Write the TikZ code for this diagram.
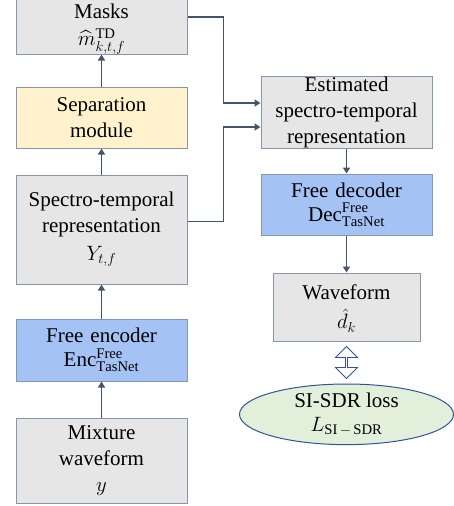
\documentclass[tikz,border=0pt]{standalone}
\usepackage{amsmath}
\usepackage{fontspec}
\setmainfont{Liberation Serif}
\usepackage{tikz}
\usetikzlibrary{shapes.geometric}
\usetikzlibrary{shapes.arrows}
\usetikzlibrary{arrows.meta}
\usetikzlibrary{calc}
\usetikzlibrary{positioning}
\definecolor{boxgray}{HTML}{E7E6E6}
\definecolor{boxline}{HTML}{8497B0}
\definecolor{sepyellow}{HTML}{FFF2CC}
\definecolor{codecblue}{HTML}{A4C2F4}
\definecolor{lossgreen}{HTML}{E2EFDA}
\definecolor{lossline}{HTML}{2F5597}
\definecolor{flowline}{HTML}{44546A}
\tikzstyle{block} = [rectangle, minimum width=171pt, text width=168pt, inner sep=0pt, text centered, draw=boxline, line width=1pt, fill=boxgray, font=\fontsize{21}{26}\selectfont]
\tikzstyle{sepblock} = [block, fill=sepyellow]
\tikzstyle{codec} = [block, fill=codecblue]
\tikzstyle{lossnode} = [ellipse, minimum width=214pt, minimum height=57pt, inner sep=0pt, align=center, draw=lossline, line width=1pt, fill=lossgreen, font=\fontsize{21}{26}\selectfont]
\tikzstyle{arrow} = [line width=1.6pt, draw=flowline, ->, >={Triangle[length=6pt,width=7pt]}]

\begin{document}
\begin{tikzpicture}[x=1pt, y=1pt]
        \useasboundingbox (0,0) rectangle (454,-506);
        % left column, bottom to top
        \node (mix) [block, minimum height=85pt] at (101.5,-460.5) {Mixture\\waveform\\$y$};
        \node (enc) [codec, minimum height=62pt, above=36pt of mix] {Free encoder\\[-2pt]$\mathrm{Enc}^{\mathrm{Free}}_{\mathrm{TasNet}}$};
        \node (spec) [block, minimum height=109pt, above=34pt of enc] {Spectro-temporal\\representation\\[2pt]$Y_{t,f}$};
        \node (sep) [sepblock, minimum height=61pt, above=26pt of spec] {Separation\\module};
        \node (masks) [block, minimum height=58pt, above=32pt of sep] {Masks\\[1pt]\smash{$\widehat{m}^{\mathrm{TD}}_{k,t,f}$}};

        % right column, top to bottom
        \node (est) [block, minimum height=72pt] at (346.5,-112) {Estimated\\spectro-temporal\\representation};
        \node (dec) [codec, minimum height=61pt, below=25pt of est] {Free decoder\\[-2pt]$\mathrm{Dec}^{\mathrm{Free}}_{\mathrm{TasNet}}$};
        \node (wav) [block, minimum width=147pt, text width=144pt, minimum height=68pt, below=37pt of dec] {Waveform\\[3pt]\smash{$\hat{d}_k$}};
        \node (loss) [lossnode, below=42pt of wav] {SI-SDR loss\\[-2pt]$L_{\mathrm{SI}\,-\,\mathrm{SDR}}$};
        \node (cmp) [double arrow, rotate=90, draw=lossline, line width=0.8pt, fill=white, minimum height=32pt, minimum width=22pt, double arrow head extend=4pt, inner sep=0pt] at ($(wav.south)!0.5!(loss.north)$) {};

        \draw [arrow] (mix) -- (enc);
        \draw [arrow] (enc) -- (spec);
        \draw [arrow] (spec) -- (sep);
        \draw [arrow] (sep) -- (masks);
        \draw [arrow] ([yshift=8pt]masks.east) -- ++(36pt,0) |- ([yshift=9pt]est.west);
        \draw [arrow] ([yshift=8pt]spec.east) -- ++(36pt,0) |- ([yshift=-15pt]est.west);
        \draw [arrow] (est) -- (dec);
        \draw [arrow] (dec) -- (wav);
    \end{tikzpicture}
\end{document}
